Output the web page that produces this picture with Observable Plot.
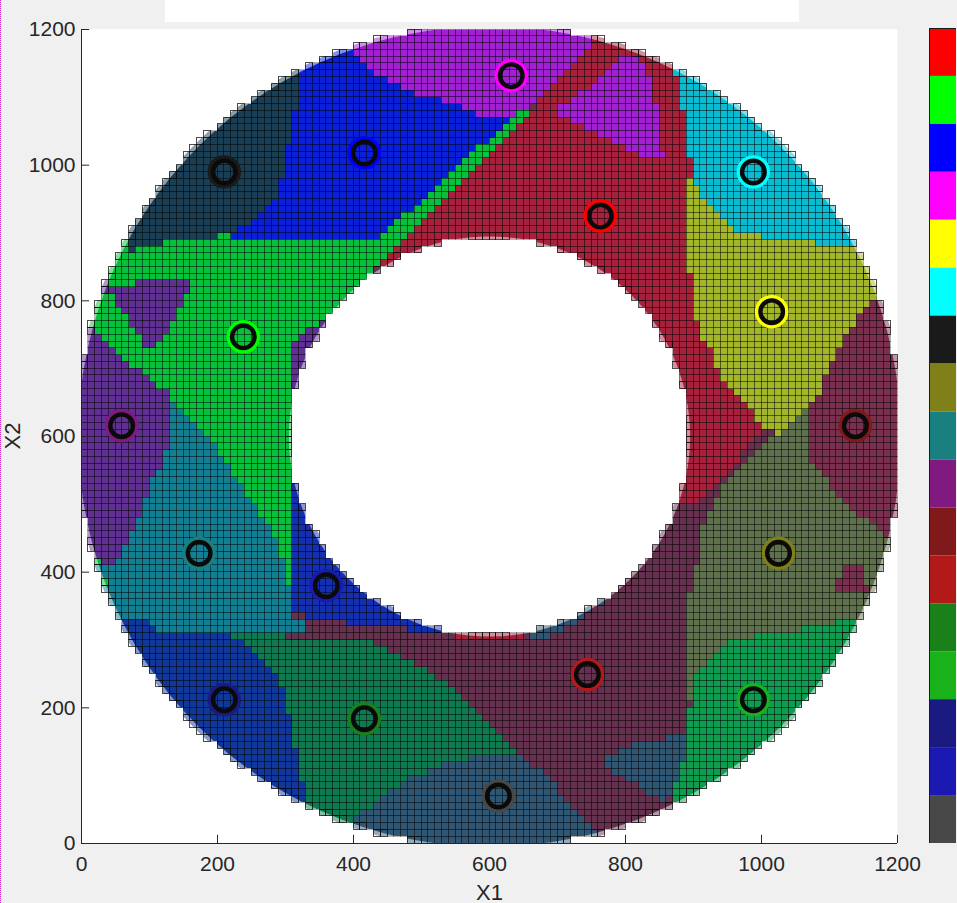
<!DOCTYPE html>
<html><head><meta charset="utf-8">
<style>
html,body{margin:0;padding:0;background:#f0f0f0;width:957px;height:903px;overflow:hidden;font-family:"Liberation Sans",sans-serif}
#strip{position:absolute;left:165px;top:0;width:634px;height:22px;background:#fff}
#edge{position:absolute;left:0;top:0;height:903px;border-left:1px dotted #d020d0}
#main{position:absolute;left:0;top:0}
#bar{position:absolute;left:929px;top:28px}
svg{display:block;background:transparent !important}
</style>
<script src="https://cdn.jsdelivr.net/npm/d3@7"></script>
<script src="https://cdn.jsdelivr.net/npm/@observablehq/plot@0.6"></script>
</head><body>
<div id="strip"></div><div id="edge"></div><div id="main"></div><div id="bar"></div>
<script>
const axisTicks = [0,200,400,600,800,1000,1200];
const palette = ["#ff0000","#00ff00","#0000ff","#ff00ff","#ffff00","#00ffff","#1a1a1a","#808019","#19807f","#801a80","#801a1a","#b21a1a","#1a801a","#1ab21a","#1a1a80","#1a1ab2","#484848"];

// cluster centres: [x, y, palette index]
const centres = [[763,925,0],[238,747,1],[416,1018,2],[632,1132,3],[1015,784,4],[988,990,5],[210,990,6],[1025,428,7],[173,428,8],[59,616,9],[1138,616,10],[744,249,11],[416,184,12],[988,212,13],[210,212,14],[360,380,15],[613,70,16]];

// region colours
const cMaroon="#66304f", cGreen2="#0f7a50", cSlate="#2f5672", cNavy="#10379a", cTeal="#137f92", cGreen="#08c03c", cPurple="#5f3092", cBlue2="#1430b0", cViolet="#a020d2", cRed="#a5213c", cCyan="#0abcd2", cLime="#a3b62a", cWine="#7a2f4e", cMoss="#5f704c", cGreen3="#0f9c50", cBlue="#0a20d8", cInk="#1a3f54";

// region outlines, in data units, painted in this order
const maroon=[[310,339],[329,339],[329,329],[391,329],[393,319],[479,319],[479,311],[535,311],[587,506],[871,521],[871,496],[906,499],[947,543],[1003,609],[1010,597],[984,565],[944,525],[925,491],[910,459],[907,422],[891,355],[891,215],[900,215],[900,199],[891,196],[891,122],[881,122],[881,88],[871,83],[871,63],[851,-10],[749,-10],[650,127],[538,236],[459,282],[376,301],[326,311],[326,329],[310,329]];
const green2=[[216,310],[376,301],[421,299],[459,282],[538,236],[587,192],[650,127],[587,130],[538,118],[488,97],[440,68],[406,38],[403,-10],[329,-10],[329,68],[318,122],[307,186],[293,236],[263,274],[234,299]];
const navy=[[20,329],[94,329],[121,311],[216,310],[234,299],[263,274],[293,236],[307,186],[318,122],[329,68],[329,-10],[20,-10]];
const slateBottom=[[650,127],[685,97],[759,15],[759,-10],[381,-10],[406,38],[440,68],[488,97],[538,118],[587,130]];
const slateBlob=[[891,159],[815,149],[760,118],[803,93],[851,63],[871,68],[881,88],[881,122],[891,122]];
const slateRim=[[660,295],[702,309],[729,324],[753,344],[775,360],[775,375],[700,340],[660,320]];
const teal=[[-31,406],[62,437],[87,487],[104,535],[121,565],[132,594],[132,661],[190,594],[293,440],[299,383],[310,383],[310,329],[326,329],[326,311],[222,311],[121,311],[94,329],[65,329],[65,299],[20,299],[-31,320]];
const red=[[753,1187],[753,1215],[900,1215],[881,1081],[891,1078],[891,1007],[900,1003],[900,985],[891,985],[891,838],[900,835],[900,771],[910,768],[910,742],[928,723],[937,695],[947,680],[976,653],[1003,612],[1003,609],[947,543],[906,499],[871,496],[616,653],[437,848],[656,1074],[729,1155]];
const redRim=[[547,296],[650,296],[650,309],[547,309]];
const green=[[-31,774],[104,676],[190,594],[293,440],[299,383],[310,383],[351,653],[410,830],[437,848],[656,1074],[649,1084],[440,905],[-31,905]];
const purpleLeft=[[-31,768],[13,760],[104,678],[132,661],[132,594],[121,565],[104,535],[87,487],[62,437],[47,406],[-31,406]];
const purpleIsle=[[28,830],[37,830],[47,819],[113,830],[116,835],[160,835],[160,819],[131,761],[112,732],[94,732],[57,790],[47,808],[21,811]];
const purpleRim=[[310,732],[340,760],[366,783],[388,774],[351,727],[322,661],[310,661]];
const blue2=[[310,535],[535,535],[535,311],[479,311],[479,319],[393,319],[391,329],[329,329],[329,339],[310,339]];
const violetTop=[[388,1184],[418,1143],[491,1103],[535,1093],[587,1074],[638,1074],[638,1078],[653,1078],[729,1155],[753,1184],[763,1214],[388,1214]];
const violetIsle=[[704,1086],[729,1100],[797,1158],[822,1162],[826,1150],[841,1111],[851,1062],[854,1018],[862,1007],[851,1007],[807,1018],[749,1052],[704,1074]];
const cyan=[[871,1136],[881,1150],[1000,1215],[1215,1000],[1215,880],[1134,875],[1116,875],[1082,885],[1076,892],[1003,894],[1001,901],[969,901],[950,914],[918,948],[891,985],[900,985],[900,1003],[891,1007],[891,1078],[881,1081],[881,1125]];
const lime=[[891,985],[918,948],[950,914],[969,901],[1001,901],[1003,894],[1076,892],[1082,885],[1134,875],[1124,892],[1135,880],[1215,880],[1215,800],[1175,796],[1156,796],[1143,776],[1116,737],[1097,698],[1087,665],[1068,639],[1024,600],[1003,612],[976,653],[947,680],[937,695],[928,723],[910,742],[910,768],[900,771],[900,835],[891,838]];
const wine=[[1156,796],[1175,796],[1180,775],[1212,775],[1212,447],[1179,450],[1112,516],[1069,565],[1069,639],[1087,665],[1097,698],[1116,737],[1143,776]];
const moss=[[1010,597],[1035,609],[1069,649],[1069,565],[1112,516],[1182,450],[1215,450],[1215,300],[1126,329],[1087,317],[1018,311],[959,299],[906,251],[900,230],[900,215],[891,215],[891,355],[907,422],[910,459],[925,491],[944,525],[984,565]];
const wineIsle=[[1106,366],[1106,376],[1116,392],[1126,413],[1143,413],[1153,403],[1153,383],[1160,383],[1160,373]];
const green3=[[900,230],[906,251],[959,299],[1018,311],[1087,317],[1126,329],[1215,329],[1215,-10],[871,-10],[871,63],[871,83],[881,88],[881,122],[891,122],[891,196],[900,199]];
const blue=[[322,1215],[388,1215],[388,1184],[418,1143],[491,1103],[535,1093],[587,1074],[638,1074],[638,1078],[649,1084],[440,894],[216,892],[216,901],[253,914],[288,948],[303,1007],[310,1077],[319,1085],[322,1140]];
const ink=[[68,875],[84,875],[84,882],[121,882],[121,892],[197,892],[197,901],[216,901],[253,914],[288,948],[303,1007],[310,1077],[319,1085],[322,1140],[322,1215],[-20,1215],[-20,890],[68,890]];
const greenCellA=[[20,410],[30,410],[30,420],[20,420]];
const greenCellB=[[30,380],[40,380],[40,390],[30,390]];

const layers=[[maroon,cMaroon],[green2,cGreen2],[navy,cNavy],[slateBottom,cSlate],[slateBlob,cSlate],[slateRim,cSlate],[teal,cTeal],[red,cRed],[redRim,cRed],[green,cGreen],[purpleLeft,cPurple],[purpleIsle,cPurple],[purpleRim,cPurple],[blue2,cBlue2],[violetTop,cViolet],[violetIsle,cViolet],[cyan,cCyan],[lime,cLime],[wine,cWine],[moss,cMoss],[wineIsle,cWine],[green3,cGreen3],[blue,cBlue],[ink,cInk],[greenCellA,cGreen],[greenCellB,cGreen]];

// 10-unit mesh of the ring, centre 600,600
const step=10, cx=600, cy=600, rIn=300, rOut=602;
const cells=[];
for(let i=0;i<120;i++)for(let j=0;j<120;j++){
  const x1=i*step,y1=j*step,x2=x1+step,y2=y1+step;
  const far=d3.max([[x1,y1],[x2,y1],[x1,y2],[x2,y2]],([a,b])=>Math.hypot(a-cx,b-cy));
  const dx=Math.max(x1-cx,0,cx-x2), dy=Math.max(y1-cy,0,cy-y2);
  const near=Math.hypot(dx,dy);
  if(near>=rOut||far<=rIn) continue;
  const pt=[x1+step/2,y1+step/2];
  let col=cMaroon;
  for(const [poly,c] of layers) if(d3.polygonContains(poly,pt)) col=c;
  cells.push({x1,y1,x2,y2,edge:far>609||near<291,fill:col});
}
const circle=(r,dir)=>d3.range(0,361,3).map(a=>[cx+r*Math.cos(dir*a*Math.PI/180),cy+r*Math.sin(dir*a*Math.PI/180)]);
const frameLoop=[[1200,600],[1200,1200],[0,1200],[0,0],[1200,0],[1200,600]];
const maskOptions={x:"0",y:"1",fill:"#ffffff",stroke:"none",clip:true};

const ink2="#262626";
const chart=Plot.plot({
  width:925,height:903,marginLeft:81,marginRight:28,marginTop:29,marginBottom:60,
  style:{background:"transparent",fontFamily:"'Liberation Sans',sans-serif",fontSize:"20px",color:ink2},
  x:{domain:[0,1200],axis:null},y:{domain:[0,1200],axis:null},
  color:{type:"identity"},
  marks:[
    Plot.frame({fill:"#ffffff",stroke:"none"}),
    Plot.rect(cells,{x1:"x1",x2:"x2",y1:"y1",y2:"y2",fill:"fill",inset:0,shapeRendering:"crispEdges"}),
    // soft rim, then hard rim, on both circles
    Plot.line([...frameLoop,...circle(605,-1)],{...maskOptions,fillOpacity:0.5}),
    Plot.line([...frameLoop,...circle(611,-1)],maskOptions),
    Plot.line(circle(295,1),{...maskOptions,fillOpacity:0.5}),
    Plot.line(circle(289,1),maskOptions),
    Plot.rect(cells.filter(d=>!d.edge),{x1:"x1",x2:"x2",y1:"y1",y2:"y2",fill:"none",stroke:"#000000",strokeOpacity:0.3,strokeWidth:1,inset:0,shapeRendering:"crispEdges"}),
    Plot.rect(cells.filter(d=>d.edge),{x1:"x1",x2:"x2",y1:"y1",y2:"y2",fill:"none",stroke:"#000000",strokeOpacity:0.7,strokeWidth:1,inset:0,shapeRendering:"crispEdges"}),
    Plot.dot(centres,{x:"0",y:"1",r:14.5,stroke:d=>palette[d[2]],strokeWidth:4.5,fill:"none"}),
    Plot.dot(centres,{x:"0",y:"1",r:11.3,stroke:"#0a0a0a",strokeWidth:4.4,fill:"none"}),
    Plot.ruleX([0],{stroke:ink2}),
    Plot.ruleY([0],{stroke:ink2}),
    Plot.ruleX(axisTicks,{x:d=>d,y1:0,y2:12,stroke:ink2}),
    Plot.ruleY(axisTicks,{y:d=>d,x1:0,x2:12,stroke:ink2}),
    Plot.axisX(axisTicks,{tickSize:0,tickPadding:13,anchor:"bottom",label:null,fontSize:21,fill:ink2,tickFormat:d=>String(d)}),
    Plot.axisY(axisTicks,{tickSize:0,tickPadding:6,anchor:"left",label:null,fontSize:21,fill:ink2,tickFormat:d=>String(d)}),
    Plot.text(["X1"],{frameAnchor:"bottom",dy:56,fontSize:22,fill:ink2}),
    Plot.text(["X2"],{frameAnchor:"left",dx:-69,dy:13,rotate:-90,fontSize:22,fill:ink2})
  ]
});
document.getElementById("main").append(chart);

const bar=Plot.plot({
  width:27,height:815,margin:0,
  style:{background:"transparent"},
  x:{axis:null},y:{type:"band",domain:d3.range(palette.length),padding:0,round:false,axis:null},
  color:{type:"identity"},
  marks:[
    Plot.cell(palette,{y:(d,i)=>i,fill:d=>d,inset:0}),
    Plot.frame({stroke:"#1a1a1a",strokeWidth:1})
  ]
});
document.getElementById("bar").append(bar);
</script>
</body></html>
